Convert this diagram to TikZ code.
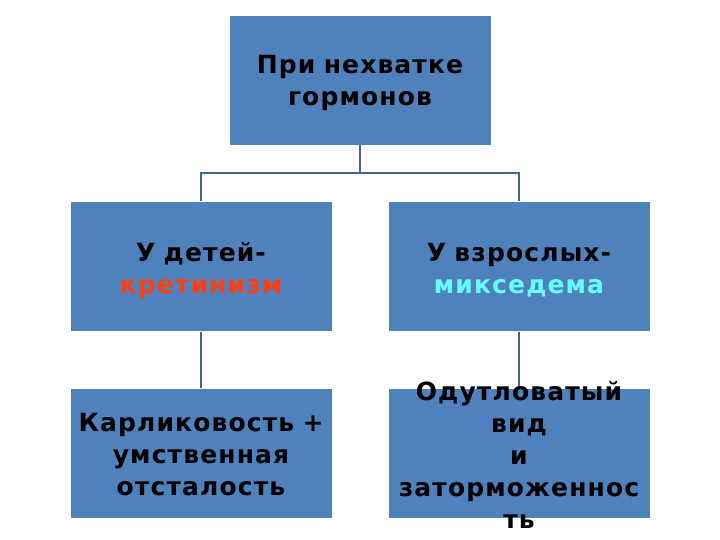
\documentclass[tikz,border=0pt]{standalone}
\usepackage{fontspec}
\setmainfont{DejaVu Sans}[LetterSpace=4.5]
\definecolor{boxblue}{HTML}{4F81BD}
\definecolor{linkblue}{HTML}{41658F}
\definecolor{redword}{HTML}{FF3D14}
\definecolor{cyanword}{HTML}{66FFFF}
\tikzset{
  hbox/.style={draw=white, line width=0.6pt, fill=boxblue, minimum width=262pt, minimum height=130pt, inner sep=0pt},
  htext/.style={align=center, text width=258pt, font=\fontsize{25}{32}\selectfont\bfseries},
  link/.style={draw=linkblue, line width=1.6pt}
}
\begin{document}
\begin{tikzpicture}[x=1pt, y=-1pt]
  \useasboundingbox (0,0) rectangle (720,540);
  % boxes
  \node[hbox] (top) at (360,80) {};
  \node[hbox] (kids) at (201,266.5) {};
  \node[hbox] (adults) at (519,266.5) {};
  \node[hbox] (dwarf) at (201,453) {};
  \node[hbox] (puffy) at (519,453) {};

  % connectors
  \coordinate (bus) at (360,173);
  \draw[link] (top.south) -- (bus);
  \draw[link] (kids.north) |- (bus) -| (adults.north);
  \draw[link] (kids.south) -- (dwarf.north);
  \draw[link] (adults.south) -- (puffy.north);

  % texts
  \node[htext] (toptext) at ([yshift=-3pt]top.center) {При нехватке\\ гормонов};
  \node[htext] (kidstext) at ([yshift=-4pt]kids.center) {У детей-\\ \textcolor{redword}{кретинизм}};
  \node[htext] (adultstext) at ([yshift=-4pt]adults.center) {У взрослых-\\ \textcolor{cyanword}{микседема}};
  \node[htext] (dwarftext) at ([yshift=-2pt]dwarf.center) {Карликовость +\\ умственная\\ отсталость};
  \node[htext] (puffytext) at ([yshift=-2pt]puffy.center) {Одутловатый\\ вид\\ и\\ заторможеннос\\ ть};
\end{tikzpicture}
\end{document}
